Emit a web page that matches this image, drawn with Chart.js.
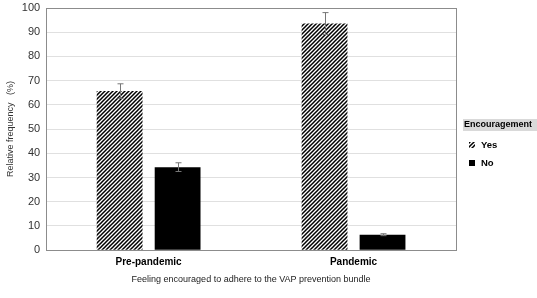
<!DOCTYPE html>
<html lang="en">
<head>
<meta charset="UTF-8">
<title>Encouragement</title>
<style>
  body { margin: 0; background: #fff; }
  #wrap { width: 537px; height: 298px; }
</style>
</head>
<body>
<div id="wrap"><canvas id="myChart" width="537" height="298"></canvas></div>
<script src="https://cdn.jsdelivr.net/npm/chart.js"></script>
<script>
  const categories = ['Pre-pandemic', 'Pandemic'];
  const seriesNames = ['Yes', 'No'];
  const yesValues = [65.7, 93.6];
  const noValues = [34.3, 6.4];
  const yesErrors = [3.0, 4.5];
  const noErrors = [1.8, 0.4];
  const yTicks = [0, 10, 20, 30, 40, 50, 60, 70, 80, 90, 100];

  const font = "'Liberation Sans', Arial, sans-serif";

  function hatch() {
    const c = document.createElement('canvas');
    c.width = 4; c.height = 4;
    const g = c.getContext('2d');
    g.fillStyle = '#fff';
    g.fillRect(0, 0, 4, 4);
    g.strokeStyle = '#000';
    g.lineWidth = 1.5;
    g.beginPath();
    g.moveTo(-1, 5); g.lineTo(5, -1);
    g.moveTo(-1, 1); g.lineTo(1, -1);
    g.moveTo(3, 5); g.lineTo(5, 3);
    g.stroke();
    return g.createPattern(c, 'repeat');
  }
  const hatchFill = hatch();

  const errors = [yesErrors, noErrors];

  const extras = {
    id: 'extras',
    afterDatasetsDraw(chart) {
      const ctx = chart.ctx;
      const y = chart.scales.y;
      const a = chart.chartArea;
      ctx.save();
      // error bars
      ctx.strokeStyle = '#777';
      ctx.lineWidth = 1;
      chart.data.datasets.forEach((ds, di) => {
        chart.getDatasetMeta(di).data.forEach((bar, i) => {
          const v = ds.data[i], e = errors[di][i];
          const x = Math.round(bar.x) + 0.5;
          const t = y.getPixelForValue(v + e), b = y.getPixelForValue(v - e);
          ctx.beginPath();
          ctx.moveTo(x, t); ctx.lineTo(x, b);
          ctx.moveTo(x - 3, t); ctx.lineTo(x + 3, t);
          ctx.moveTo(x - 3, b); ctx.lineTo(x + 3, b);
          ctx.stroke();
        });
      });
      // plot box
      ctx.strokeStyle = '#8c8c8c';
      ctx.lineWidth = 1;
      ctx.strokeRect(Math.round(a.left) + 0.5, Math.round(a.top) + 0.5,
        Math.round(a.right - a.left), Math.round(a.bottom - a.top));
      // legend
      const lx = 463, ly = 119;
      ctx.fillStyle = '#d9d9d9';
      ctx.fillRect(lx, ly, 74, 12);
      ctx.fillStyle = '#000';
      ctx.font = 'bold 9px ' + font;
      ctx.textBaseline = 'middle';
      ctx.fillText('Encouragement', lx + 1, ly + 6);
      chart.data.datasets.forEach((ds, di) => {
        const yy = 145 + di * 18;
        ctx.fillStyle = ds.backgroundColor;
        ctx.fillRect(lx + 6, yy - 3, 6, 6);
        ctx.fillStyle = '#000';
        ctx.font = 'bold 9.5px ' + font;
        ctx.fillText(ds.label, lx + 18, yy);
      });
      ctx.restore();
    }
  };

  new Chart(document.getElementById('myChart'), {
    type: 'bar',
    data: {
      labels: categories,
      datasets: [
        { label: seriesNames[0], data: yesValues, backgroundColor: hatchFill, borderColor: '#000', borderWidth: 0 },
        { label: seriesNames[1], data: noValues, backgroundColor: '#000', borderColor: '#000', borderWidth: 0 }
      ]
    },
    options: {
      responsive: false,
      animation: false,
      categoryPercentage: 0.566,
      barPercentage: 0.79,
      layout: { padding: { top: 8, right: 81, left: 5, bottom: 13 } },
      plugins: { legend: { display: false }, tooltip: { enabled: false } },
      scales: {
        x: {
          grid: { display: false, drawTicks: false },
          border: { color: '#8c8c8c' },
          ticks: { color: '#000', font: { family: font, size: 10, weight: 'bold' }, padding: 6 },
          title: { display: true, text: 'Feeling encouraged to adhere to the VAP prevention bundle', color: '#222', font: { family: font, size: 9 }, padding: { top: 0, bottom: 0 } }
        },
        y: {
          min: 0, max: 100,
          afterBuildTicks(s) { s.ticks = yTicks.map(v => ({ value: v })); },
          afterFit(s) { s.paddingTop = 0; s.paddingBottom = 0; },
          grid: { color: '#e0e0e0', drawTicks: false },
          border: { color: '#8c8c8c' },
          ticks: { color: '#333', font: { family: font, size: 11 }, padding: 6 },
          title: { display: true, text: 'Relative frequency   (%)', color: '#333', font: { family: font, size: 9 }, padding: 0 }
        }
      }
    },
    plugins: [extras]
  });
</script>
</body>
</html>
